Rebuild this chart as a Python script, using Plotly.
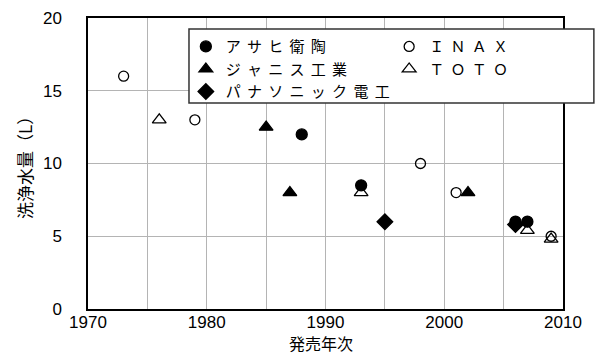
import plotly.graph_objects as go

# Data
asahi_x = [1988, 1993, 2006, 2007]
asahi_y = [12, 8.5, 6, 6]
inax_x = [1973, 1979, 1998, 2001, 2006, 2007, 2009]
inax_y = [16, 13, 10, 8, 6, 6, 5]
janis_x = [1985, 1987, 2002]
janis_y = [12.5, 8, 8]
toto_x = [1976, 1993, 2007, 2009]
toto_y = [13, 8, 5.4, 4.8]
pana_x = [1995, 2006]
pana_y = [6, 5.8]

names = ["アサヒ衛陶", "ＩＮＡＸ", "ジャニス工業", "ＴＯＴＯ", "パナソニック電工"]
x_ticks = [1970, 1980, 1990, 2000, 2010]
y_ticks = [0, 5, 10, 15, 20]
x_title = "発売年次"
y_title = "洗浄水量（L）"

JP = "Noto Sans CJK JP"
LEGFONT = "Liberation Sans, Noto Sans CJK JP"

def spaced(s):
    return "\u2004\u200a".join(s)

fig = go.Figure()
series = [
    (names[0], asahi_x, asahi_y, "circle", 11, "legend"),
    (names[1], inax_x, inax_y, "circle-open", 10, "legend2"),
    (names[2], janis_x, janis_y, "triangle-up", 12, "legend"),
    (names[3], toto_x, toto_y, "triangle-up-open", 12, "legend2"),
    (names[4], pana_x, pana_y, "diamond", 12, "legend"),
]
for name, xs, ys, sym, sz, leg in series:
    fig.add_trace(go.Scatter(
        x=xs, y=ys, mode="markers", name=spaced(name), legend=leg,
        marker=dict(symbol=sym, size=sz, color="black",
                    line=dict(color="black", width=1.3)),
    ))

leg_common = dict(
    xanchor="left", yanchor="top", bgcolor="rgba(0,0,0,0)",
    borderwidth=0, font=dict(family=LEGFONT, size=15, color="black"),
    itemsizing="trace", tracegroupgap=0,
)

fig.update_layout(
    width=595, height=360,
    margin=dict(l=88, r=32, t=18, b=51, autoexpand=False),
    paper_bgcolor="white", plot_bgcolor="white",
    font=dict(family="Liberation Sans, Arial, sans-serif", size=17, color="black"),
    showlegend=True,
    legend=dict(x=0.206, y=0.958, **leg_common),
    legend2=dict(x=0.634, y=0.958, **leg_common),
    shapes=[dict(type="rect", xref="paper", yref="paper",
                 x0=0.2126, x1=1.065, y0=0.708, y1=0.962,
                 line=dict(color="#333333", width=1.5),
                 fillcolor="white", layer="above")],
    annotations=[dict(text=x_title, xref="paper", yref="paper", x=0.49, y=-0.117,
                      xanchor="center", yanchor="middle", showarrow=False,
                      font=dict(family=JP, size=16, color="black"))],
    xaxis=dict(
        range=[1970, 2010], tickvals=x_ticks, ticktext=[str(v) for v in x_ticks],
        showgrid=True, gridcolor="#b4b4b4", gridwidth=1,
        showline=True, linecolor="black", linewidth=1.5, mirror=True,
        ticks="", zeroline=False, automargin=False, ticklabelstandoff=-3,
        minor=dict(dtick=5, tick0=1970, showgrid=True, gridcolor="#b4b4b4", gridwidth=1),
    ),
    yaxis=dict(
        range=[0, 20], tickvals=y_ticks,
        showgrid=True, gridcolor="#b4b4b4", gridwidth=1,
        showline=True, linecolor="black", linewidth=1.5, mirror=True,
        ticks="", zeroline=False, ticklabelstandoff=21, automargin=False,
        title=dict(text=y_title, font=dict(family=JP, size=17), standoff=6),
    ),
)

fig.write_html("out.html", config={"displayModeBar": False},
               post_script="document.body.style.margin='0';")
